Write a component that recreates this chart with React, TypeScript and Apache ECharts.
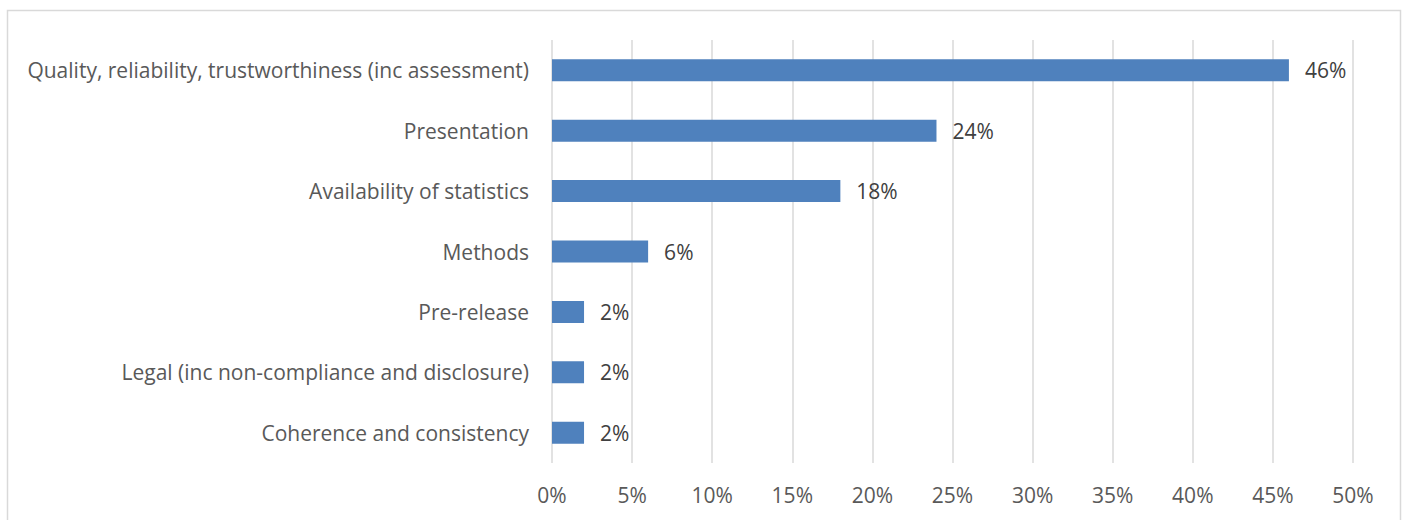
import React, { useEffect, useRef } from "react";
import * as echarts from "echarts";

const categories = [
  "Coherence and consistency",
  "Legal (inc non-compliance and disclosure)",
  "Pre-release",
  "Methods",
  "Availability of statistics",
  "Presentation",
  "Quality, reliability, trustworthiness (inc assessment)",
];
const values = [2, 2, 2, 6, 18, 24, 46];

export default function App() {
  const ref = useRef<HTMLDivElement>(null);
  useEffect(() => {
    const chart = echarts.init(ref.current!, null, { renderer: "svg" });
    chart.setOption({
      animation: false,
      textStyle: { fontFamily: "Open Sans" },
      graphic: [
        {
          type: "rect",
          shape: { x: 7.5, y: 10.5, width: 1393, height: 520 },
          style: { fill: "none", stroke: "#D9D9D9", lineWidth: 1.5 },
          silent: true,
        },
      ],
      grid: { left: 552, right: 50, top: 40, bottom: 57, containLabel: false },
      xAxis: {
        type: "value",
        min: 0,
        max: 50,
        interval: 5,
        axisLine: { show: false },
        axisTick: { show: false },
        splitLine: { show: true, lineStyle: { color: "#D9D9D9", width: 1.5 } },
        axisLabel: {
          formatter: "{value}%",
          color: "#595959",
          fontSize: 21,
          margin: 21,
          fontFamily: "Open Sans",
        },
      },
      yAxis: {
        type: "category",
        data: categories,
        axisLine: { show: false },
        axisTick: { show: false },
        axisLabel: { color: "#595959", fontSize: 21, margin: 23, fontFamily: "Open Sans" },
      },
      series: [
        {
          type: "bar",
          data: values,
          barWidth: 22,
          itemStyle: { color: "#4F81BD" },
          label: {
            show: true,
            position: "right",
            distance: 16,
            formatter: "{c}%",
            color: "#404040",
            fontSize: 21,
            fontFamily: "Open Sans",
          },
        },
      ],
    });
    return () => chart.dispose();
  }, []);
  return (
    <div
      ref={ref}
      style={{ position: "absolute", left: 0, top: 0, width: 1403, height: 520 }}
    />
  );
}
